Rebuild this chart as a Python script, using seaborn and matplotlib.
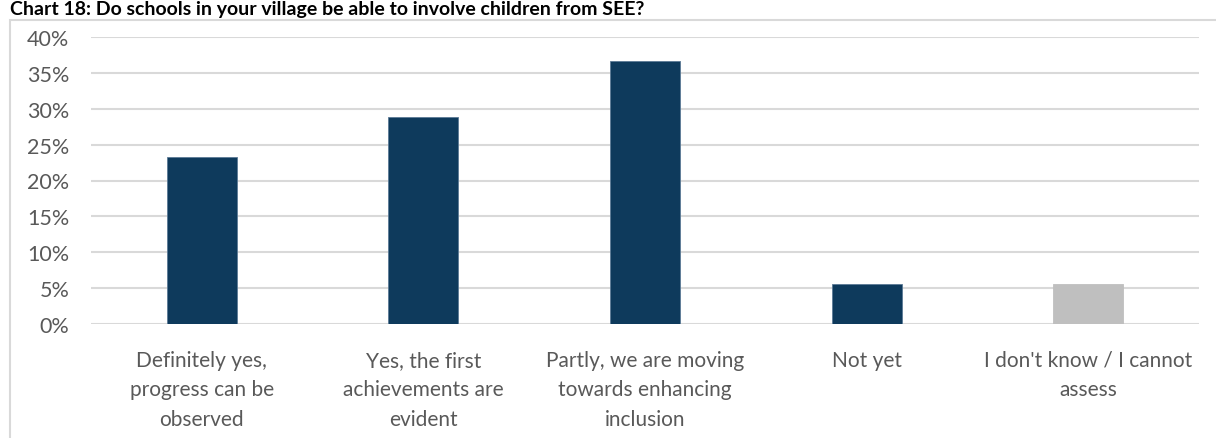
import matplotlib
matplotlib.use("Agg")
import matplotlib.pyplot as plt
from matplotlib.patches import Rectangle
from matplotlib.ticker import PercentFormatter
import seaborn as sns
import pandas as pd

# Survey answers and their shares of respondents
categories = [
    "Definitely yes, progress can be observed",
    "Yes, the first achievements are evident",
    "Partly, we are moving towards enhancing inclusion",
    "Not yet",
    "I don't know / I cannot assess",
]
tick_labels = [
    "Definitely yes,\nprogress can be\nobserved",
    "Yes, the first\nachievements are\nevident",
    "Partly, we are moving\ntowards enhancing\ninclusion",
    "Not yet",
    "I don't know / I cannot\nassess",
]
shares = [0.233, 0.289, 0.367, 0.056, 0.056]
y_ticks = [0.0, 0.05, 0.10, 0.15, 0.20, 0.25, 0.30, 0.35, 0.40]
title = "Chart 18: Do schools in your village be able to involve children from SEE?"

navy = "#0e3a5c"
grey = "#bfbfbf"
bar_colors = [navy, navy, navy, navy, grey]

sns.set_theme(style="white")
plt.rcParams["font.family"] = ["Lato", "DejaVu Sans"]

W, H = 1216, 439
fig = plt.figure(figsize=(W / 100, H / 100), dpi=100)
fig.patch.set_facecolor("white")

# outer chart frame (left and top edges visible)
frame_top = 21
fig.patches.append(Rectangle((10 / W, -0.1), 1.2, 1 - frame_top / H + 0.1,
                             transform=fig.transFigure, fill=False,
                             edgecolor="#d9d9d9", linewidth=1.5, zorder=0))

fig.text(10 / W, 1 - 15 / H, title, ha="left", va="baseline",
         fontsize=14, fontweight="bold", color="black")

ax = fig.add_axes([91 / W, (H - 325) / H, (1199 - 91) / W, (325 - 38) / H])

df = pd.DataFrame({"answer": categories, "share": shares})
sns.barplot(data=df, x="answer", y="share", hue="answer",
            palette=dict(zip(categories, bar_colors)), width=0.316,
            legend=False, ax=ax, zorder=3, saturation=1.0,
            linewidth=0.6, edgecolor="#5b7a96")
# grey bar gets a matching edge
ax.patches[-1].set_edgecolor(grey)

ax.set_ylim(0, 0.40)
ax.set_xlim(-0.5, len(categories) - 0.5)
ax.set_yticks(y_ticks)
ax.yaxis.set_major_formatter(PercentFormatter(1.0, decimals=0))
ax.set_xticks(range(len(categories)))
ax.set_xticklabels(tick_labels, linespacing=1.6)
ax.set_xlabel("")
ax.set_ylabel("")

ax.yaxis.grid(True, color="#d9d9d9", linewidth=1.5, zorder=0)
ax.set_axisbelow(True)
for s in ax.spines.values():
    s.set_visible(False)
ax.tick_params(axis="y", length=0, pad=15.5, labelsize=15.5, labelcolor="#595959")
ax.tick_params(axis="x", length=0, pad=18.5, labelsize=15, labelcolor="#595959")

fig.savefig("out.png", dpi=100, facecolor="white")
